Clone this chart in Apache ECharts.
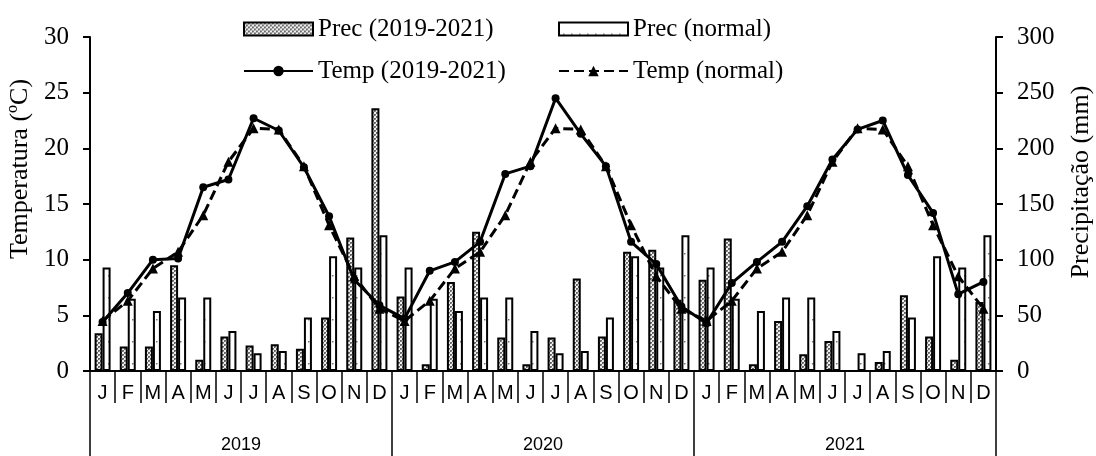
<!DOCTYPE html>
<html>
<head>
<meta charset="utf-8">
<script src="https://cdn.jsdelivr.net/npm/echarts@6/dist/echarts.min.js"></script>
<style>
html,body{margin:0;padding:0;background:#fff;}
#chart{width:1096px;height:456px;}
</style>
</head>
<body>
<div id="chart"></div>
<script>
const months = ['J','F','M','A','M','J','J','A','S','O','N','D','J','F','M','A','M','J','J','A','S','O','N','D','J','F','M','A','M','J','J','A','S','O','N','D'];
const years = ['2019','2020','2021'];
const precObs = [34,22,22,95,10,31,23,24,20,48,120,236, 67,6,80,125,30,6,30,83,31,107,109,64, 82,119,6,45,15,27,0,8,68,31,10,62];
const precNormal = [93,65,54,66,66,36,16,18,48,103,93,122, 93,65,54,66,66,36,16,18,48,103,93,122, 93,65,54,66,66,36,16,18,48,103,93,122];
const tempObs = [4.4,7.0,10.0,10.1,16.5,17.2,22.7,21.6,18.3,13.9,8.2,5.9, 4.7,9.0,9.8,11.6,17.7,18.4,24.5,21.3,18.4,11.6,9.6,5.8, 4.3,7.9,9.8,11.6,14.8,19.0,21.7,22.5,17.6,14.2,6.9,8.0];
const tempNormal = [4.5,6.3,9.2,10.7,14.0,18.8,21.8,21.7,18.4,13.1,8.5,5.6, 4.5,6.3,9.2,10.7,14.0,18.8,21.8,21.7,18.4,13.1,8.5,5.6, 4.5,6.3,9.2,10.7,14.0,18.8,21.8,21.7,18.4,13.1,8.5,5.6];

function hatchPattern(){
  const c = document.createElement('canvas'); c.width = 4; c.height = 4;
  const g = c.getContext('2d');
  g.fillStyle = '#f0f0f0'; g.fillRect(0,0,4,4);
  g.fillStyle = '#666'; g.fillRect(0,0,2,2); g.fillRect(2,2,2,2);
  g.fillStyle = '#9a9a9a'; g.fillRect(1,1,1,1); g.fillRect(3,3,1,1);
  return c;
}
function dotPattern(){
  const c = document.createElement('canvas'); c.width = 8; c.height = 22;
  const g = c.getContext('2d');
  g.fillStyle = '#ffffff'; g.fillRect(0,0,8,22);
  g.fillStyle = '#777'; g.fillRect(4,11,1.5,1.5);
  return c;
}

const serif = 'Liberation Serif, Times New Roman, serif';
const narrow = 'Liberation Sans Narrow, Liberation Sans, Arial, sans-serif';
const legendText = {fontFamily: serif, fontSize: 25, color: '#000', lineHeight: 26};
const chart = echarts.init(document.getElementById('chart'));
chart.setOption({
  animation: false,
  backgroundColor: '#fff',
  grid: {left: 90, right: 100, top: 37, bottom: 85, containLabel: false, outerBoundsMode: 'none'},
  legend: [
    {data: [{name: 'Prec (2019-2021)', icon: 'rect'}, {name: 'Temp (2019-2021)'}], orient: 'vertical', left: 238, top: 11,
     itemWidth: 69, itemHeight: 13, itemGap: 16, itemTextGap: 7, textStyle: legendText},
    {data: [{name: 'Prec (normal)', icon: 'rect'}, {name: 'Temp (normal)'}], orient: 'vertical', left: 553, top: 11,
     itemWidth: 69, itemHeight: 13, itemGap: 16, itemTextGap: 7, textStyle: legendText}
  ],
  xAxis: [
    {type: 'category', data: months, boundaryGap: true,
     axisLine: {show: true, lineStyle: {color: '#000', width: 2}},
     axisTick: {show: true, interval: 0, length: 32, lineStyle: {color: '#000', width: 1.5}},
     axisLabel: {interval: 0, margin: 12, fontFamily: narrow, fontSize: 20, color: '#000'},
     splitLine: {show: false}},
    {type: 'category', data: years, boundaryGap: true, position: 'bottom', offset: 0,
     axisLine: {show: false},
     axisTick: {show: true, interval: 0, length: 85, lineStyle: {color: '#000', width: 1.5}},
     axisLabel: {interval: 0, margin: 65, fontFamily: narrow, fontSize: 18, color: '#000'},
     splitLine: {show: false}}
  ],
  yAxis: [
    {type: 'value', min: 0, max: 30, interval: 5, position: 'left',
     name: 'Temperatura (ºC)', nameLocation: 'middle', nameGap: 56, nameRotate: 90,
     nameTextStyle: {fontFamily: serif, fontSize: 26, color: '#000', padding: [0, 0, 0, 70]},
     axisLine: {show: true, lineStyle: {color: '#000', width: 2}},
     axisTick: {show: true, inside: false, length: 7, lineStyle: {color: '#000', width: 2}},
     axisLabel: {margin: 21, fontFamily: serif, fontSize: 25, color: '#000'},
     splitLine: {show: false}},
    {type: 'value', min: 0, max: 300, interval: 50, position: 'right',
     name: 'Precipitação (mm)', nameLocation: 'middle', nameGap: 72, nameRotate: 90,
     nameTextStyle: {fontFamily: serif, fontSize: 26, color: '#000', padding: [0, 0, 0, 44]},
     axisLine: {show: true, lineStyle: {color: '#000', width: 2}},
     axisTick: {show: true, inside: false, length: 7, lineStyle: {color: '#000', width: 2}},
     axisLabel: {margin: 21, fontFamily: serif, fontSize: 25, color: '#000'},
     splitLine: {show: false}}
  ],
  series: [
    {name: 'Prec (2019-2021)', type: 'bar', xAxisIndex: 0, yAxisIndex: 1, data: precObs,
     barWidth: 8, barGap: '0%',
     itemStyle: {color: {image: hatchPattern(), repeat: 'repeat'}, borderColor: '#000', borderWidth: 2}},
    {name: 'Prec (normal)', type: 'bar', xAxisIndex: 0, yAxisIndex: 1, data: precNormal,
     barWidth: 8, barGap: '0%',
     itemStyle: {color: {image: dotPattern(), repeat: 'repeat'}, borderColor: '#000', borderWidth: 2}},
    {name: 'Temp (2019-2021)', type: 'line', xAxisIndex: 0, yAxisIndex: 0, data: tempObs,
     symbol: 'circle', symbolSize: 8, color: '#000',
     lineStyle: {color: '#000', width: 3}, itemStyle: {color: '#000'}},
    {name: 'Temp (normal)', type: 'line', xAxisIndex: 0, yAxisIndex: 0, data: tempNormal,
     symbol: 'triangle', symbolSize: 10, color: '#000',
     lineStyle: {color: '#000', width: 3, type: [10, 5]}, itemStyle: {color: '#000'}}
  ]
});
</script>
</body>
</html>
